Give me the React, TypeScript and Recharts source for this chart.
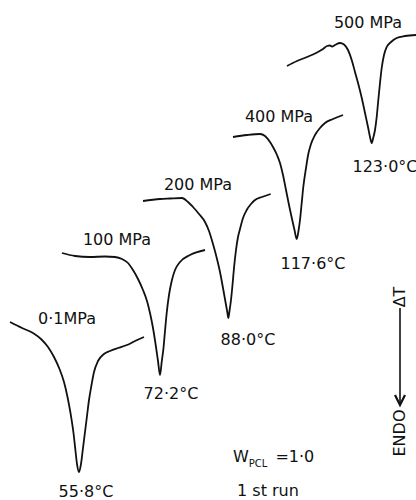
import { LineChart, Line, XAxis, YAxis, ReferenceDot } from "recharts";

// DSC melting endotherms of PCL, one trace per crystallization pressure.
// Traces are staggered on the sheet, so x/y are plot units, not °C.
const pressures = ["0·1MPa", "100 MPa", "200 MPa", "400 MPa", "500 MPa"];
const peakTemps = ["55·8°C", "72·2°C", "88·0°C", "117·6°C", "123·0°C"];

const trace01 = [
  [10, 178], [22, 172], [33, 167], [41, 161], [48, 153], [54, 143], [59.5, 131], [64, 118],
  [67.5, 103], [70.5, 87], [73.5, 67], [75.5, 49], [77, 36], [79, 28], [81, 36], [83, 52],
  [85, 68], [87, 84], [89, 100], [91.5, 115], [94, 128], [98, 139], [104, 146], [110, 149],
  [118, 152], [127, 155], [135, 159], [144, 163],
];
const trace100 = [
  [62, 247], [75, 244], [90, 243], [105, 243.5], [115, 243], [122, 241], [128, 237], [133, 230],
  [138, 221], [143, 210], [147, 199], [150, 187], [153, 172], [156, 153], [158, 139], [160, 125],
  [161.8, 139], [163.5, 152], [165, 169], [166.7, 187], [169, 205], [171.7, 219], [175, 230],
  [180, 238], [190, 245], [205, 250],
];
const trace200 = [
  [143, 299], [160, 301], [170, 301.5], [182, 302], [188, 298], [193, 293], [199, 286],
  [205, 278], [209, 269], [213, 256], [217, 241], [220, 228], [223, 212], [225.5, 198],
  [227.3, 188], [228.3, 182], [229.5, 189], [231, 200], [232.5, 215], [234, 232], [236, 250],
  [238, 263], [240, 271], [243, 282], [246.7, 290], [251, 296], [255, 300], [262, 303],
  [270.7, 306],
];
const trace400 = [
  [233, 363], [247, 365], [260, 366], [265, 364], [270, 358], [273, 353], [277, 345],
  [280, 337], [283, 325], [286, 310], [289, 295], [292, 281], [294.5, 270], [296.7, 261],
  [298.3, 268], [300, 280], [301.7, 297], [303.3, 313], [306, 332], [308.3, 346], [311, 356],
  [315, 365], [320, 372], [325, 377], [333, 381], [343, 385],
];
const trace500 = [
  [287, 434], [297, 439], [307, 443], [316, 447], [323, 451], [327, 454], [330, 454.5],
  [332, 453.5], [335, 455], [340, 457], [344, 455.5], [348, 450], [351.7, 440], [355, 428],
  [358.3, 416], [362, 401], [365, 387], [368, 373], [370, 363], [371.7, 357], [373.2, 362],
  [375, 370], [376.7, 383], [378.3, 400], [380, 417], [381.7, 432], [384, 445], [386.7, 453],
  [391, 458], [396.7, 462], [405, 464], [416, 465],
];

const traces = [trace01, trace100, trace200, trace400, trace500].map((t) =>
  t.map(([x, y]) => ({ x, y }))
);

// where the pressure / peak labels sit
const pressurePos = [[67, 182], [117, 261], [198, 316], [279, 384], [368, 478]];
const peakPos = [[86, 9], [171, 107], [248, 161], [313, 237], [385, 334]];

const ink = "#111";
const font = "'DejaVu Sans', sans-serif";

const txt = (value: string) => ({
  value,
  position: "center" as const,
  fill: ink,
  fontSize: 16,
  fontFamily: font,
});

function Subscripted(props: any) {
  const { cx, cy } = props;
  return (
    <text x={cx} y={cy} fill={ink} fontFamily={font} fontSize={16} dominantBaseline="middle">
      <tspan>W</tspan>
      <tspan dy={7} fontSize={10}>PCL</tspan>
      <tspan dy={-7} dx={8}>=1·0</tspan>
    </text>
  );
}

function EndoArrow(props: any) {
  const { cx, cy } = props;
  return (
    <g fill={ink} fontFamily={font} fontSize={16}>
      <text transform={`rotate(-90 ${cx} ${cy - 98})`} x={cx} y={cy - 98} textAnchor="middle" dominantBaseline="middle">
        ΔT
      </text>
      <line x1={cx} y1={cy - 87} x2={cx} y2={cy + 8} stroke={ink} strokeWidth={1.6} />
      <path d={`M${cx - 5},${cy} L${cx},${cy + 10} L${cx + 5},${cy}`} fill="none" stroke={ink} strokeWidth={2.2} />
      <text transform={`rotate(-90 ${cx} ${cy + 38})`} x={cx} y={cy + 38} textAnchor="middle" dominantBaseline="middle">
        ENDO
      </text>
    </g>
  );
}

export default function App() {
  return (
    <div style={{ position: "absolute", left: 0, top: 0, background: "#fff" }}>
      <LineChart width={416} height={500} margin={{ top: 0, right: 0, bottom: 0, left: 0 }}>
        <XAxis type="number" dataKey="x" domain={[0, 416]} hide allowDataOverflow />
        <YAxis type="number" dataKey="y" domain={[0, 500]} hide allowDataOverflow />
        {traces.map((d, i) => (
          <Line
            key={pressures[i]}
            data={d}
            dataKey="y"
            type="monotone"
            stroke={ink}
            strokeWidth={1.8}
            strokeLinejoin="round"
            dot={false}
            activeDot={false}
            legendType="none"
            isAnimationActive={false}
          />
        ))}
        {pressures.map((p, i) => (
          <ReferenceDot key={p} x={pressurePos[i][0]} y={pressurePos[i][1]} r={0} stroke="none" fill="none" ifOverflow="visible" label={txt(p)} />
        ))}
        {peakTemps.map((t, i) => (
          <ReferenceDot key={t} x={peakPos[i][0]} y={peakPos[i][1]} r={0} stroke="none" fill="none" ifOverflow="visible" label={txt(t)} />
        ))}
        <ReferenceDot x={233} y={43} r={0} ifOverflow="visible" shape={Subscripted} />
        <ReferenceDot x={268} y={10} r={0} ifOverflow="visible" stroke="none" fill="none" label={txt("1 st run")} />
        <ReferenceDot x={400} y={105} r={0} ifOverflow="visible" shape={EndoArrow} />
      </LineChart>
    </div>
  );
}
